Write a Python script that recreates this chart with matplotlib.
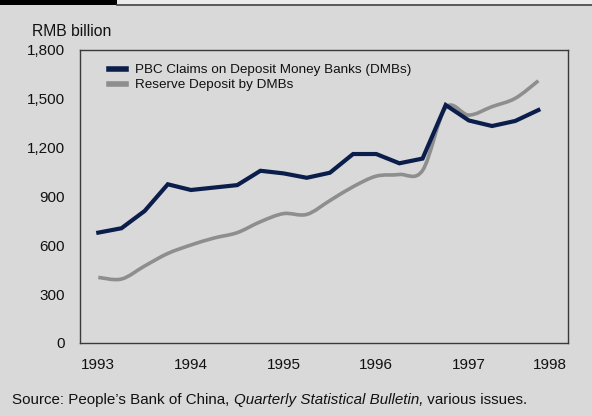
import matplotlib
matplotlib.use("Agg")
import matplotlib.pyplot as plt
from matplotlib.path import Path
from matplotlib.patches import PathPatch, Rectangle
from matplotlib.lines import Line2D
import numpy as np

plt.rcParams['font.family'] = ['Liberation Sans', 'DejaVu Sans']

# Quarterly observations, 1993Q1 - 1997Q4 (RMB billion)
quarters = [f"{y}Q{q}" for y in range(1993, 1998) for q in range(1, 5)]
pbc_claims = [678, 705, 811, 975, 940, 955, 970, 1058, 1042, 1015,
              1046, 1161, 1161, 1104, 1133, 1462, 1367, 1333, 1364, 1431]
reserve_deposit = [403, 393, 473, 550, 602, 645, 678, 745, 795, 790,
                   875, 960, 1025, 1035, 1060, 1445, 1400, 1452, 1503, 1611]

year_labels = ["1993", "1994", "1995", "1996", "1997", "1998"]
year_label_pos = [0, 4, 8, 12, 16, 19.5]
y_ticks = [0, 300, 600, 900, 1200, 1500, 1800]

BG = "#d9d9d9"
NAVY = "#0b1e4b"
GREY = "#8e8e8e"
SPINE = "#3a3a3a"

fig = plt.figure(figsize=(5.92, 4.16), dpi=100, facecolor=BG)

# header strip: black tab on the left, thin rule across the rest
fig.patches.append(Rectangle((117 / 592, 1 - 4 / 416), 1, 4 / 416, transform=fig.transFigure,
                             facecolor="#ebebeb", edgecolor="none"))
fig.patches.append(Rectangle((0, 1 - 5 / 416), 117 / 592, 5 / 416, transform=fig.transFigure,
                             facecolor="#000000", edgecolor="none"))
fig.lines.append(Line2D([117 / 592, 1], [1 - 4.5 / 416, 1 - 4.5 / 416], transform=fig.transFigure,
                        color="#444444", lw=1.2))

ax = fig.add_axes([80 / 592, 1 - 343 / 416, 488 / 592, 293 / 416])
ax.set_facecolor(BG)

x = np.arange(len(quarters))

# PBC claims: straight segments
ax.plot(x, pbc_claims, color=NAVY, lw=3.0, solid_joinstyle="miter", zorder=3,
        label="PBC Claims on Deposit Money Banks (DMBs)")

# Reserve deposit: smoothed curve (Catmull-Rom as cubic Bezier segments)
pts = np.column_stack([x, reserve_deposit]).astype(float)
ext = np.vstack([pts[0], pts, pts[-1]])
verts = [tuple(pts[0])]
codes = [Path.MOVETO]
for i in range(1, len(ext) - 2):
    p0, p1, p2, p3 = ext[i - 1], ext[i], ext[i + 1], ext[i + 2]
    c1 = p1 + (p2 - p0) / 6.0
    c2 = p2 - (p3 - p1) / 6.0
    verts += [tuple(c1), tuple(c2), tuple(p2)]
    codes += [Path.CURVE4] * 3
ax.add_patch(PathPatch(Path(verts, codes), facecolor="none", edgecolor=GREY,
                       lw=2.6, zorder=2, capstyle="butt"))
ax.plot([], [], color=GREY, lw=2.6, label="Reserve Deposit by DMBs")

ax.set_xlim(-0.79, 20.28)
ax.set_ylim(0, 1800)
ax.set_yticks(y_ticks)
ax.set_yticklabels([f"{v:,}" for v in y_ticks])
ax.set_xticks(year_label_pos)
ax.set_xticklabels(year_labels)
ax.tick_params(axis="both", length=0, labelsize=11, colors="#111111")
ax.tick_params(axis="y", pad=11)
ax.tick_params(axis="x", pad=11)

for s in ax.spines.values():
    s.set_color(SPINE)
    s.set_linewidth(1.0)

leg = ax.legend(loc="upper left", bbox_to_anchor=(29 / 488, 1 - 14 / 293), frameon=False,
                fontsize=9.7, handlelength=1.25, handletextpad=0.7, labelspacing=0.18,
                borderpad=0, borderaxespad=0)
for h in leg.get_lines():
    h.set_linewidth(4)
for t in leg.get_texts():
    t.set_color("#111111")

fig.text(32 / 592, 1 - 31 / 416, "RMB billion", fontsize=11.3, va="center", ha="left", color="#111111")

# source line with the publication title in italics
SRC_SIZE = 10.9
t1 = fig.text(12 / 592, 1 - 400 / 416, "Source: People\u2019s Bank of China, ", fontsize=SRC_SIZE,
              va="center", ha="left", color="#111111")
fig.canvas.draw()
r = fig.canvas.get_renderer()
bb = t1.get_window_extent(renderer=r)
src = fig.text(bb.x1 / fig.bbox.width, 1 - 400 / 416, "Quarterly Statistical Bulletin,",
               fontsize=SRC_SIZE, style="italic", va="center", ha="left", color="#111111")
fig.canvas.draw()
bb2 = src.get_window_extent(renderer=r)
fig.text(bb2.x1 / fig.bbox.width, 1 - 400 / 416, " various issues.", fontsize=SRC_SIZE,
         va="center", ha="left", color="#111111")

fig.savefig("out.png", dpi=100, facecolor=BG)
